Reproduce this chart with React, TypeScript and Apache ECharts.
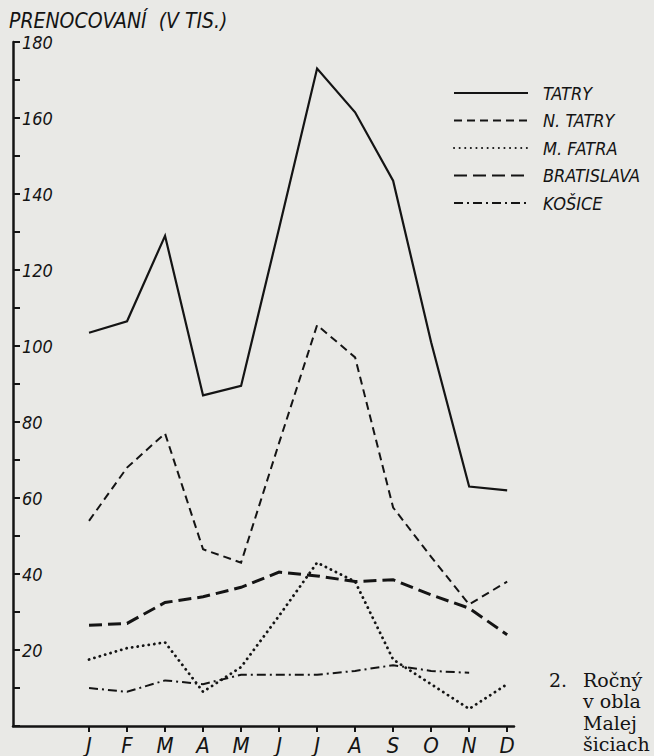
import React, { useEffect, useRef } from "react";
import * as echarts from "echarts";

const months = ["J", "F", "M", "A", "M", "J", "J", "A", "S", "O", "N", "D"];
const monthPositions = [1, 2, 3, 4, 5, 6, 7, 8, 9, 10, 11, 12];

const tatry = [103.5, 106.5, 129, 87, 89.5, 131, 173, 161.5, 143.5, 101, 63, 62];
const nTatry = [54, 68, 77, 46.5, 43, 74.5, 105.5, 97, 57.5, 44.5, 32, 38];
const mFatra = [17.5, 20.5, 22, 9, 15.5, 29, 43, 38, 17.5, 11, 4.5, 11];
const bratislava = [26.5, 27, 32.5, 34, 36.5, 40.5, 39.5, 38, 38.5, 34.5, 31, 24];
const kosice: (number | null)[] = [10, 9, 12, 11, 13.5, 13.5, 13.5, 14.5, 16, 14.5, 14, null];

const seriesNames = ["TATRY", "N. TATRY", "M. FATRA", "BRATISLAVA", "KOŠICE"];
const titleText = "PRENOCOVANÍ  (V TIS.)";
const captionLines = ["Ročný", "v obla", "Malej", "šiciach"];

const INK = "#141414";
const PAPER = "#e9e9e6";
const LETTER = '"DejaVu Sans Condensed", "DejaVu Sans", sans-serif';
const SERIF = '"DejaVu Serif", "Liberation Serif", serif';

function toPairs(vals: (number | null)[]) {
  return vals.map((v, i) => [monthPositions[i], v]);
}

export default function App() {
  const ref = useRef<HTMLDivElement>(null);

  useEffect(() => {
    if (!ref.current) return;
    const chart = echarts.init(ref.current, null, { renderer: "svg" });

    const mk = (name: string, vals: (number | null)[], width: number, type: any, cap: any = "butt") => ({
      name,
      type: "line",
      data: toPairs(vals),
      symbol: "none",
      showSymbol: false,
      connectNulls: false,
      lineStyle: { color: INK, width, type, cap, join: "miter" },
      itemStyle: { color: INK },
      emphasis: { disabled: true },
    });

    const option: any = {
      animation: false,
      backgroundColor: PAPER,
      title: {
        text: titleText,
        left: 9,
        top: 10,
        padding: 0,
        textStyle: {
          fontFamily: LETTER,
          fontStyle: "italic",
          fontWeight: "normal",
          fontSize: 21,
          lineHeight: 21,
          color: INK,
        },
      },
      legend: {
        orient: "vertical",
        left: 448,
        top: 79,
        itemWidth: 74,
        itemHeight: 14,
        itemGap: 9.5,
        data: seriesNames,
        itemStyle: { opacity: 0, borderWidth: 0 },
        textStyle: {
          fontFamily: LETTER,
          fontStyle: "italic",
          fontSize: 18,
          lineHeight: 18,
          color: INK,
          padding: [0, 0, 0, 10],
        },
        selectedMode: false,
      },
      grid: { left: 13, right: 140, top: 42, bottom: 29, containLabel: false },
      xAxis: {
        type: "value",
        min: -1,
        max: 12.18,
        axisLine: { show: true, onZero: false, lineStyle: { color: INK, width: 2.5 } },
        axisTick: {
          show: true,
          customValues: monthPositions,
          inside: false,
          length: 6,
          lineStyle: { color: INK, width: 2 },
        },
        axisLabel: {
          show: true,
          customValues: monthPositions,
          formatter: (v: number) => months[Math.round(v) - 1] ?? "",
          margin: 8,
          fontFamily: LETTER,
          fontStyle: "italic",
          fontSize: 22,
          color: INK,
        },
        splitLine: { show: false },
      },
      yAxis: {
        type: "value",
        min: 0,
        max: 180,
        interval: 10,
        axisLine: { show: true, onZero: false, lineStyle: { color: INK, width: 2.5 } },
        axisTick: { show: true, inside: true, length: 7, lineStyle: { color: INK, width: 2 } },
        axisLabel: {
          show: true,
          inside: true,
          margin: 9,
          formatter: (v: number) => (v > 0 && v % 20 === 0 ? String(v) : ""),
          fontFamily: LETTER,
          fontStyle: "italic",
          fontSize: 18,
          lineHeight: 18,
          color: INK,
        },
        splitLine: { show: false },
      },
      series: [
        mk(seriesNames[0], tatry, 2.2, "solid"),
        mk(seriesNames[1], nTatry, 2, [8, 5]),
        mk(seriesNames[2], mFatra, 2.8, [0.1, 5.5], "round"),
        mk(seriesNames[3], bratislava, 3, [13, 6]),
        mk(seriesNames[4], kosice, 2, [9, 4, 2, 4]),
      ],
      graphic: [
        {
          type: "text",
          left: 549,
          top: 670,
          style: { text: "2.", font: `19px ${SERIF}`, fill: INK },
        },
        ...captionLines.map((t, i) => ({
          type: "text",
          left: 583,
          top: 670 + i * 21.5,
          style: { text: t, font: `19px ${SERIF}`, fill: INK },
        })),
      ],
    };

    chart.setOption(option);
    return () => chart.dispose();
  }, []);

  return (
    <div
      ref={ref}
      style={{ position: "fixed", left: 0, top: 0, width: 654, height: 756, background: PAPER }}
    />
  );
}
